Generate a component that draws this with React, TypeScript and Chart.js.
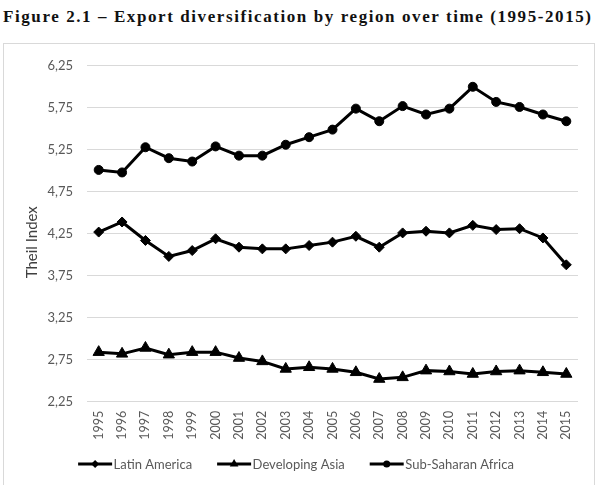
import React, { useEffect, useLayoutEffect, useRef, useState } from 'react';
import { Chart, registerables } from 'chart.js';

Chart.register(...registerables);

// Years on the category axis
const years = [
  '1995', '1996', '1997', '1998', '1999', '2000', '2001', '2002', '2003', '2004', '2005',
  '2006', '2007', '2008', '2009', '2010', '2011', '2012', '2013', '2014', '2015',
];

// Theil index by region
const latinAmerica = [
  4.27, 4.39, 4.17, 3.98, 4.05, 4.19, 4.09, 4.07, 4.07, 4.11, 4.15,
  4.22, 4.09, 4.26, 4.28, 4.26, 4.35, 4.30, 4.31, 4.20, 3.88,
];
const developingAsia = [
  2.84, 2.82, 2.89, 2.81, 2.84, 2.84, 2.77, 2.73, 2.64, 2.66, 2.64,
  2.60, 2.52, 2.54, 2.62, 2.61, 2.58, 2.61, 2.62, 2.60, 2.58,
];
const subSaharanAfrica = [
  5.01, 4.98, 5.28, 5.15, 5.11, 5.29, 5.18, 5.18, 5.31, 5.40, 5.49,
  5.74, 5.59, 5.77, 5.67, 5.74, 6.00, 5.82, 5.76, 5.67, 5.59,
];

const seriesNames = ['Latin America', 'Developing Asia', 'Sub-Saharan Africa'];
const yTicks = [2.25, 2.75, 3.25, 3.75, 4.25, 4.75, 5.25, 5.75, 6.25];
const yAxisTitle = 'Theil Index';

const TITLE = 'Figure 2.1 – Export diversification by region over time (1995-2015)';
const TITLE_WIDTH = 588;
const UI_FONT = 'Lato, "Open Sans", sans-serif';
const TEXT_GREY = '#595959';

type Marker = 'rectRot' | 'triangle' | 'circle';

const markerStyles: Marker[] = ['rectRot', 'triangle', 'circle'];
const markerRadii = [5, 6.5, 4.5];
const legendMarkerRadii = [4, 5, 3.5];

function drawMarker(ctx: CanvasRenderingContext2D, marker: Marker, cx: number, cy: number, r: number) {
  ctx.beginPath();
  if (marker === 'circle') {
    ctx.arc(cx, cy, r, 0, Math.PI * 2);
  } else if (marker === 'rectRot') {
    ctx.moveTo(cx, cy - r);
    ctx.lineTo(cx + r, cy);
    ctx.lineTo(cx, cy + r);
    ctx.lineTo(cx - r, cy);
    ctx.closePath();
  } else {
    const h = r * 1.5;
    ctx.moveTo(cx, cy - (h * 2) / 3);
    ctx.lineTo(cx + r * 0.87, cy + h / 3);
    ctx.lineTo(cx - r * 0.87, cy + h / 3);
    ctx.closePath();
  }
  ctx.fill();
}

// Axis title on the left plus a legend row under the axis:
// a short line with the series marker, then the series name
const chartDecorations = {
  id: 'chartDecorations',
  afterDraw(chart: any) {
    const ctx: CanvasRenderingContext2D = chart.ctx;

    ctx.save();
    ctx.font = `15px ${UI_FONT}`;
    ctx.fillStyle = '#404040';
    ctx.textAlign = 'center';
    ctx.textBaseline = 'middle';
    ctx.translate(28.5, (chart.chartArea.top + chart.chartArea.bottom) / 2 + 8.5);
    ctx.rotate(-Math.PI / 2);
    ctx.fillText(yAxisTitle, 0, 0);
    ctx.restore();

    const sample = 34;
    const textGap = 1.5;
    const itemGap = 25;
    ctx.save();
    ctx.font = `13px ${UI_FONT}`;
    const items = chart.data.datasets.map((ds: any, i: number) => ({
      ds,
      i,
      w: sample + textGap + ctx.measureText(ds.label).width,
    }));
    const total = items.reduce((s: number, it: any) => s + it.w, 0) + itemGap * (items.length - 1);
    let x = chart.width / 2 - 3 - total / 2;
    const y = chart.height - 21;
    for (const it of items) {
      ctx.strokeStyle = '#000';
      ctx.fillStyle = '#000';
      ctx.lineWidth = 3;
      ctx.beginPath();
      ctx.moveTo(x, y);
      ctx.lineTo(x + sample, y);
      ctx.stroke();
      drawMarker(ctx, markerStyles[it.i], x + sample / 2, y, legendMarkerRadii[it.i]);
      ctx.fillStyle = TEXT_GREY;
      ctx.textBaseline = 'middle';
      ctx.textAlign = 'left';
      ctx.fillText(it.ds.label, x + sample + textGap, y + 0.5);
      x += it.w + itemGap;
    }
    ctx.restore();
  },
};

function fmt(v: number): string {
  return v.toFixed(2).replace('.', ',');
}

export default function App() {
  const canvasRef = useRef<HTMLCanvasElement | null>(null);
  const titleRef = useRef<HTMLSpanElement | null>(null);
  const [spacing, setSpacing] = useState(0);

  useLayoutEffect(() => {
    const el = titleRef.current;
    if (!el) return;
    el.style.letterSpacing = '0px';
    const w = el.getBoundingClientRect().width;
    setSpacing((TITLE_WIDTH - w) / (TITLE.length - 1));
  }, []);

  useEffect(() => {
    if (!canvasRef.current) return;
    const values = [latinAmerica, developingAsia, subSaharanAfrica];

    const chart = new Chart(canvasRef.current, {
      type: 'line',
      data: {
        labels: years,
        datasets: values.map((v, i) => ({
          label: seriesNames[i],
          data: v,
          borderColor: '#000',
          backgroundColor: '#000',
          borderWidth: 3,
          pointStyle: markerStyles[i],
          pointRadius: markerRadii[i],
          pointBorderWidth: 1,
          pointBackgroundColor: '#000',
          pointBorderColor: '#000',
          tension: 0,
          fill: false,
        })),
      },
      plugins: [chartDecorations],
      options: {
        animation: false,
        responsive: false,
        maintainAspectRatio: false,
        layout: { padding: { top: 17.7, right: 16, left: 0, bottom: 41.3 } },
        plugins: {
          title: { display: false },
          tooltip: { enabled: false },
          legend: { display: false },
        },
        scales: {
          x: {
            type: 'category',
            offset: true,
            grid: { display: false, drawTicks: false },
            border: { display: false },
            ticks: {
              minRotation: 90,
              maxRotation: 90,
              autoSkip: false,
              padding: 9,
              color: TEXT_GREY,
              font: { family: UI_FONT, size: 12.5 },
            },
            afterFit: (s: any) => {
              s.height = 42;
            },
          },
          y: {
            min: 2.25,
            max: 6.25,
            afterBuildTicks: (s: any) => {
              s.ticks = yTicks.map((v) => ({ value: v }));
            },
            grid: { color: '#d9d9d9', lineWidth: 1, drawTicks: false },
            border: { display: false },
            ticks: {
              padding: 14,
              color: TEXT_GREY,
              font: { family: UI_FONT, size: 13 },
              callback: (v: any) => fmt(Number(v)),
            },
            afterFit: (s: any) => {
              s.width = 83;
            },
          },
        },
      },
    });
    return () => chart.destroy();
  }, []);

  return (
    <div style={{ position: 'fixed', left: 0, top: 0, width: 604, height: 485, background: '#fff', overflow: 'hidden' }}>
      <div
        style={{
          position: 'absolute',
          left: 3,
          top: 7.5,
          whiteSpace: 'nowrap',
          fontFamily: '"Liberation Serif", "DejaVu Serif", serif',
          fontWeight: 'bold',
          fontSize: 17,
          lineHeight: '17px',
          color: '#111',
        }}
      >
        <span ref={titleRef} style={{ letterSpacing: `${spacing}px` }}>{TITLE}</span>
      </div>
      <div
        style={{
          position: 'absolute',
          left: 3,
          top: 43,
          width: 592,
          height: 470,
          border: '1px solid #d9d9d9',
          boxSizing: 'border-box',
        }}
      />
      <div style={{ position: 'absolute', left: 4, top: 44, width: 590, height: 441 }}>
        <canvas ref={canvasRef} width={590} height={441} style={{ display: 'block', width: 590, height: 441 }} />
      </div>
    </div>
  );
}
